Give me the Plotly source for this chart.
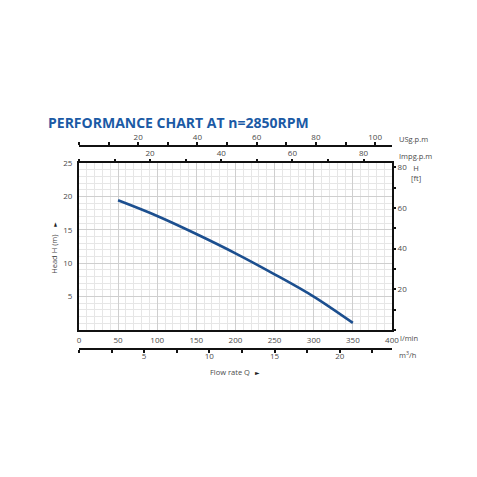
import plotly.graph_objects as go

# pump curve
flow_lpm = [50, 100, 150, 200, 250, 300, 350]
head_m = [19.45, 17.1, 14.4, 11.5, 8.35, 5.0, 1.05]

# unit conversions for the secondary scales
LPM_PER_IMPG = 4.546
LPM_PER_USG = 3.785
LPM_PER_M3H = 1000 / 60
FT_PER_M = 3.2808

q_max = 400
h_max = 25

x_ticks = [0, 50, 100, 150, 200, 250, 300, 350, 400]
y_ticks = [5, 10, 15, 20, 25]
impg_ticks = [20, 40, 60, 80]
usg_ticks = [20, 40, 60, 80, 100]
m3h_ticks = [5, 10, 15, 20]
ft_ticks = [20, 40, 60, 80]

# page body has an 8px margin; keep the figure small enough not to overflow
OFF = 8
W = 460
H = 440
TXT = "#4a4a4a"
FONT = "Open Sans"


def px(x):
    return (x - OFF) / W


def py(y):
    return 1 - (y - OFF) / H


x_dom = [px(78.3), px(397.6)]
y_dom = [py(328.3), py(159.4)]

fig = go.Figure()
fig.add_trace(
    go.Scatter(
        x=flow_lpm, y=head_m, mode="lines",
        line={"color": "#1c4f8f", "width": 2.6, "shape": "spline"},
        hoverinfo="skip", showlegend=False,
    )
)
# invisible traces so the secondary axes get drawn
fig.add_trace(go.Scatter(x=[0], y=[0], xaxis="x2", yaxis="y", mode="none", showlegend=False))
fig.add_trace(go.Scatter(x=[0], y=[0], xaxis="x3", yaxis="y", mode="none", showlegend=False))
fig.add_trace(go.Scatter(x=[0], y=[0], xaxis="x4", yaxis="y", mode="none", showlegend=False))
fig.add_trace(go.Scatter(x=[0], y=[0], xaxis="x", yaxis="y2", mode="none", showlegend=False))

tick_font = {"family": FONT, "size": 8, "color": TXT}
minor_ticks = {"ticks": "outside", "ticklen": 3, "tickwidth": 1.5, "tickcolor": "#111111"}

fig.update_layout(
    width=W, height=H,
    margin={"l": 0, "r": 0, "t": 0, "b": 0},
    paper_bgcolor="white", plot_bgcolor="white",
    xaxis={
        "domain": x_dom, "range": [0, q_max], "anchor": "y",
        "tickvals": x_ticks, "ticks": "", "ticklabelstandoff": 1,
        "tickfont": tick_font,
        "showgrid": True, "gridcolor": "#cfcfcf", "gridwidth": 1.3,
        "minor": {"dtick": 10, "showgrid": True, "gridcolor": "#e6e6e6", "gridwidth": 0.8},
        "showline": True, "linecolor": "#111111", "linewidth": 2, "mirror": True,
        "zeroline": False, "fixedrange": True,
    },
    yaxis={
        "domain": y_dom, "range": [0, h_max], "anchor": "x",
        "tickvals": y_ticks, "ticks": "", "ticklabelstandoff": 3,
        "tickfont": tick_font,
        "showgrid": True, "gridcolor": "#cfcfcf", "gridwidth": 1.3,
        "minor": {"dtick": 1, "showgrid": True, "gridcolor": "#e6e6e6", "gridwidth": 0.8},
        "showline": True, "linecolor": "#111111", "linewidth": 2, "mirror": True,
        "zeroline": False, "fixedrange": True,
    },
    xaxis2={
        "overlaying": "x", "side": "top", "anchor": "y",
        "range": [0, q_max / LPM_PER_IMPG], "tickvals": impg_ticks,
        "ticks": "outside", "ticklen": 3, "tickwidth": 1.5, "tickcolor": "#111111",
        "minor": {"dtick": 10, "tick0": 0, **minor_ticks},
        "tickfont": tick_font, "showgrid": False, "showline": False, "zeroline": False,
    },
    xaxis3={
        "overlaying": "x", "side": "top", "anchor": "free", "position": py(142),
        "range": [0, q_max / LPM_PER_USG], "tickvals": usg_ticks,
        "ticks": "outside", "ticklen": 3, "tickwidth": 1.5, "tickcolor": "#111111",
        "ticklabelstandoff": -1,
        "minor": {"dtick": 10, "tick0": 0, **minor_ticks},
        "tickfont": tick_font, "showgrid": False,
        "showline": True, "linecolor": "#111111", "linewidth": 1.6, "zeroline": False,
    },
    xaxis4={
        "overlaying": "x", "side": "bottom", "anchor": "free", "position": py(347.5),
        "range": [0, q_max / LPM_PER_M3H], "tickvals": m3h_ticks,
        "ticks": "outside", "ticklen": 3, "tickwidth": 1.5, "tickcolor": "#111111",
        "ticklabelstandoff": -3,
        "minor": {"dtick": 2.5, "tick0": 0, **minor_ticks},
        "tickfont": tick_font, "showgrid": False,
        "showline": True, "linecolor": "#111111", "linewidth": 1.6, "zeroline": False,
    },
    yaxis2={
        "overlaying": "y", "side": "right", "anchor": "x",
        "range": [0, h_max * FT_PER_M], "tickvals": ft_ticks,
        "ticks": "outside", "ticklen": 3, "tickwidth": 1.5, "tickcolor": "#111111",
        "minor": {"dtick": 10, "tick0": 0, **minor_ticks},
        "tickfont": tick_font, "showgrid": False, "showline": False, "zeroline": False,
    },
)

title_font = {"family": FONT, "size": 14, "color": "#1b5aa5"}
small = {"family": FONT, "size": 7.5, "color": TXT}
arrow_font = {"family": "DejaVu Sans", "size": 6, "color": "#222222"}


def note(text, x, y, font=small, xanchor="left", angle=0):
    fig.add_annotation(
        text=text, x=px(x), y=py(y), xref="paper", yref="paper",
        xanchor=xanchor, yanchor="middle", showarrow=False,
        font=font, textangle=angle, borderpad=0,
    )


note("<b>PERFORMANCE CHART AT n=2850RPM</b>", 46, 117.5, font=title_font)
note("USg.p.m", 404, 134.5)
note("Impg.p.m", 404, 152)
note("H<br>[ft]", 422.5, 169, xanchor="center")
note("l/min", 405, 336.5)
note("m<sup>3</sup>/h", 404, 353.5)
note("Flow rate Q", 232, 371, xanchor="center")
note("►", 260, 371, font=arrow_font, xanchor="center")
note("Head H (m)", 53, 252, xanchor="center", angle=-90)
note("►", 53, 221.5, font=arrow_font, xanchor="center", angle=-90)

fig.write_html("out.html")
